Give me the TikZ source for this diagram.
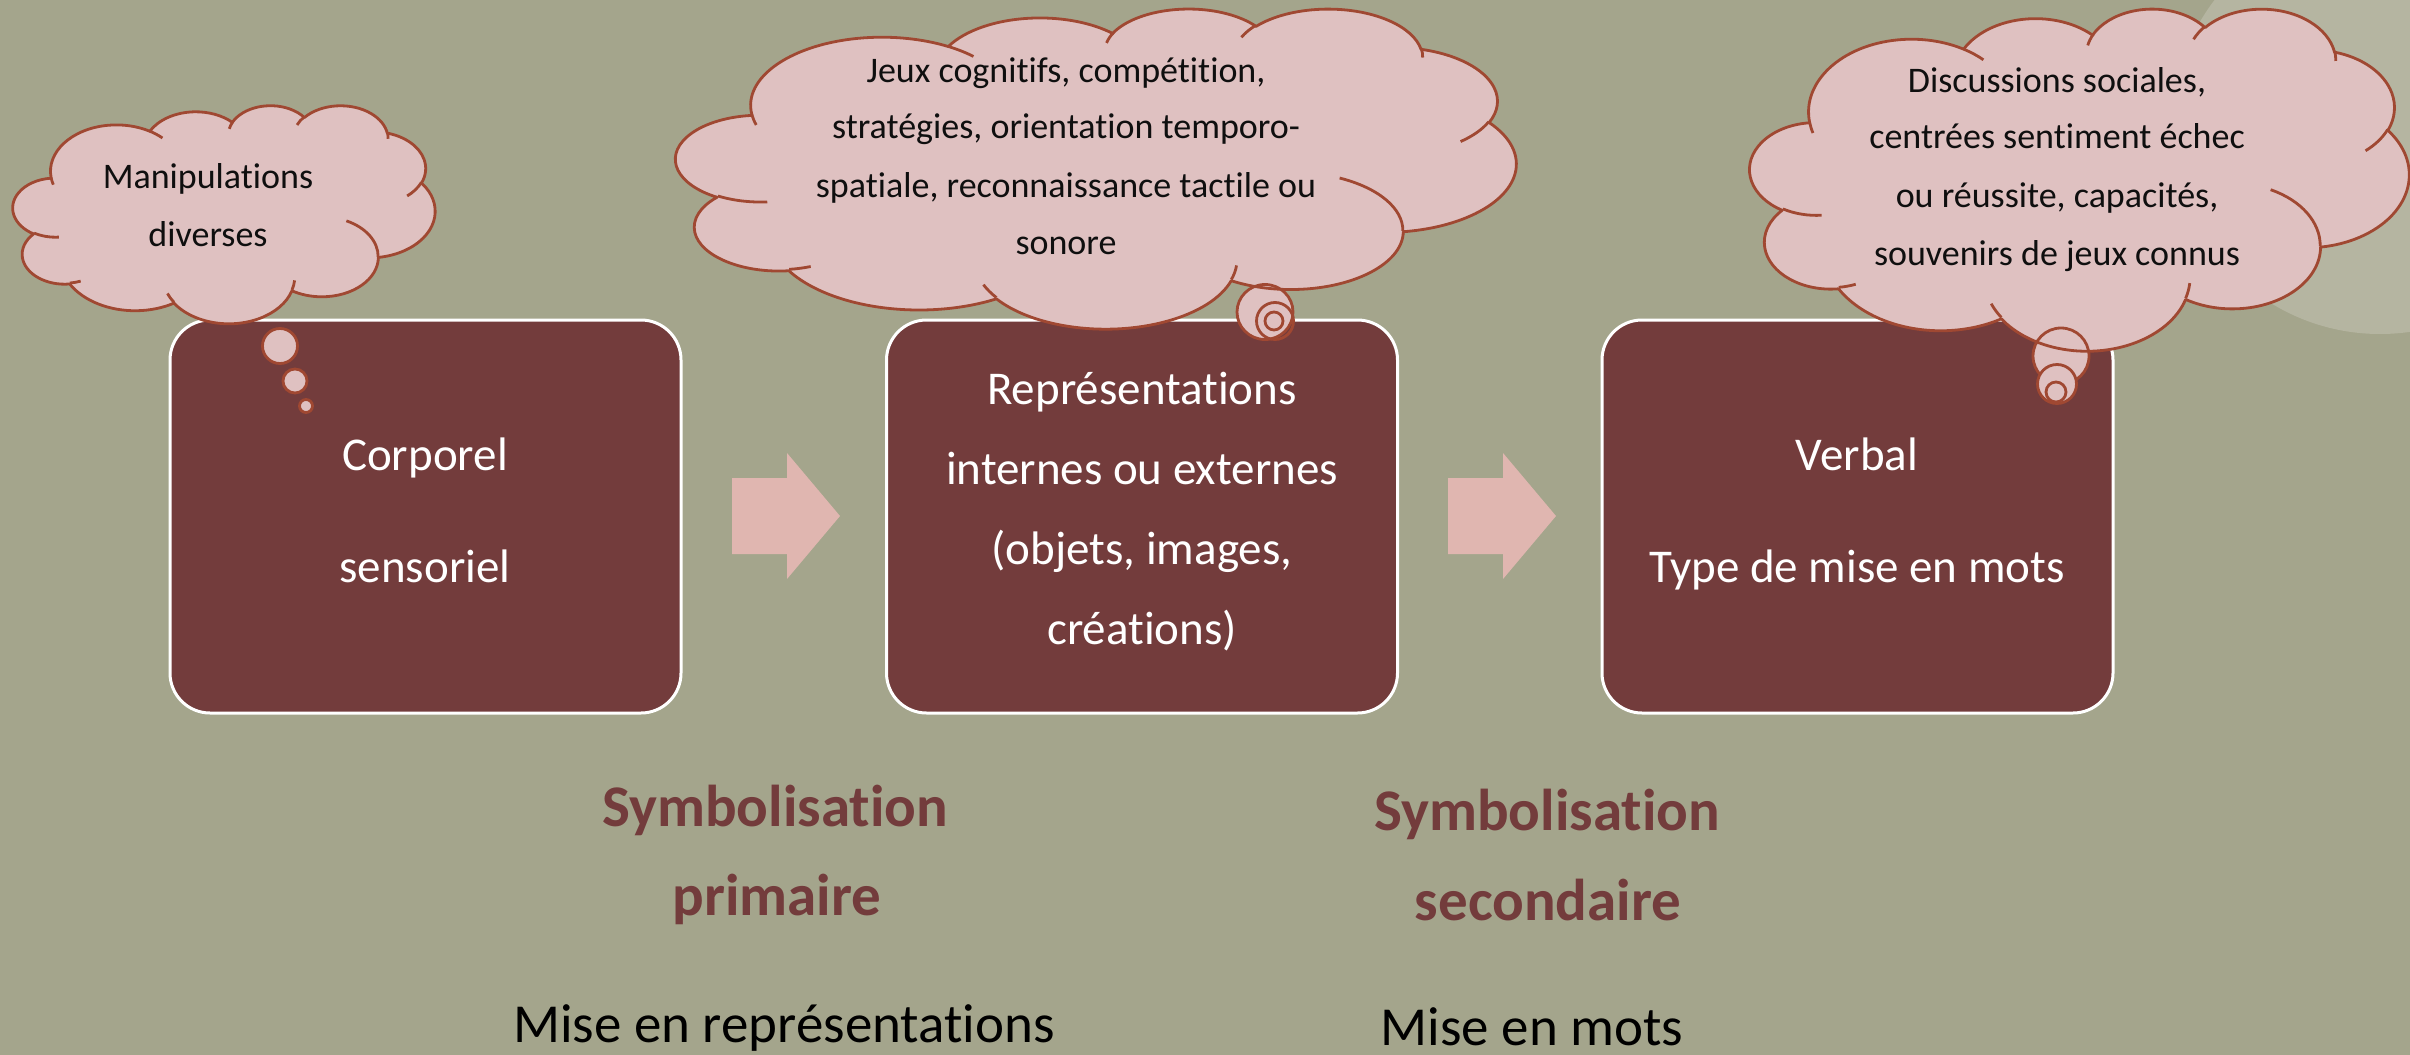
\documentclass[tikz,border=0pt]{standalone}
\usepackage{fontspec}
\setmainfont{Carlito}[Ligatures=NoCommon]

\definecolor{bg}{RGB}{164,165,140}
\definecolor{bgglow}{RGB}{181,181,161}
\definecolor{boxred}{RGB}{115,60,60}
\definecolor{cloudfill}{RGB}{223,193,193}
\definecolor{cloudedge}{RGB}{160,72,50}
\definecolor{arrowpink}{RGB}{224,182,176}
\definecolor{ink}{RGB}{15,15,15}

% Elliptic arc given by its visual start angle and sweep (degrees),
% converted to the parametric angles TikZ expects.
\newcommand\cldcalc[4]{%
  \pgfmathparse{atan2((#1)*sin(#3),(#2)*cos(#3))}\xdef\cldts{\pgfmathresult}%
  \pgfmathparse{atan2((#1)*sin(#3+#4),(#2)*cos(#3+#4))}\xdef\cldte{\pgfmathresult}%
  \pgfmathparse{mod(\cldte-\cldts+720,360)}\xdef\clddt{\pgfmathresult}%
}
\newcommand\cldarc[4]{\pgfextra{\cldcalc{#1}{#2}{#3}{#4}}
  arc[x radius=#1, y radius=#2, start angle=\cldts, delta angle=\clddt]}

% Cloud outline in a 43.2 x 43.2 box (y pointing down)
\newcommand\cloudbody{%
 (3.900,14.370)
 \cldarc{6.753}{9.190}{-190.4875}{123.7805}
 \cldarc{5.333}{7.267}{-144.1024}{89.9452}
 \cldarc{4.365}{5.945}{-145.8079}{99.7230}
 \cldarc{4.857}{6.595}{-130.9861}{117.2417}
 \cldarc{5.333}{7.273}{-78.7089}{109.0269}
 \cldarc{6.775}{9.220}{-46.2673}{130.2690}
 \cldarc{5.785}{7.867}{0.6250}{114.0333}
 \cldarc{6.752}{9.215}{22.4516}{115.1726}
 \cldarc{7.720}{10.543}{66.2426}{75.7110}
 \cldarc{4.360}{5.918}{-274.9421}{146.7356}
 \cldarc{4.345}{5.945}{-246.8285}{152.5189}
 -- cycle}
% Inner creases between the puffs
\newcommand\cloudcreases{%
 (4.693,26.177) \cldarc{4.345}{5.945}{86.7420}{26.4295}
 (6.928,34.899) \cldarc{4.360}{5.918}{73.6105}{11.4475}
 (16.478,39.090) \cldarc{6.752}{9.215}{137.6242}{14.0811}
 (28.827,34.751) \cldarc{6.752}{9.215}{6.4533}{15.9984}
 (34.129,22.954) \cldarc{5.785}{7.867}{-70.2924}{70.9174}
 (41.798,15.354) \cldarc{5.333}{7.273}{30.3180}{27.7515}
 (38.324,5.426) \cldarc{4.857}{6.595}{-13.7443}{14.8589}
 (29.078,3.952) \cldarc{4.857}{6.595}{-149.1815}{18.1954}
 (22.141,4.720) \cldarc{4.365}{5.945}{-163.4943}{17.6864}
 (14.000,5.192) \cldarc{6.753}{9.190}{-66.7070}{12.3194}
 (4.127,15.789) \cldarc{6.753}{9.190}{157.6544}{11.8582}}

% #1 left, #2 top, #3 width, #4 height, #5 fill or draw
\newcommand\cloudlayer[5]{%
  \pgfmathsetmacro\cldsx{#3/43.2}\pgfmathsetmacro\cldsy{#4/43.2}%
  \begin{scope}[shift={(#1,#2)}, x=\cldsx pt, y=-\cldsy pt]
    \ifx#5f\fill[cloudfill] \cloudbody;
    \else
      \draw[cloudline] \cloudbody;
      \draw[cloudline] \cloudcreases;
    \fi
  \end{scope}}

\begin{document}
\begin{tikzpicture}[x=1pt, y=-1pt,
  cloudline/.style={draw=cloudedge, line width=2.8pt, line join=round},
  bubble/.style={cloudline, fill=cloudfill},
  box/.style={draw=white, line width=3pt, fill=boxred, rounded corners=40pt,
    minimum width=511pt, minimum height=393pt, inner sep=0pt},
  boxtext/.style={text=white, font=\fontsize{47}{56}\selectfont, anchor=base, inner sep=0pt},
  cloudtext/.style={text=ink, font=\fontsize{36}{43}\selectfont, anchor=base, inner sep=0pt},
  titletext/.style={text=boxred, font=\bfseries\fontsize{59}{70}\selectfont, anchor=base, inner sep=0pt},
  modetext/.style={text=black, font=\fontsize{55}{66}\selectfont, anchor=base, inner sep=0pt},
  blockarrow/.style={fill=arrowpink},
]
\useasboundingbox (0,0) rectangle (2410,1055);
\fill[bg] (0,0) rectangle (2410,1055);
\fill[bgglow] (2380,126) circle[radius=208pt];

% three stages
\node[box] (b1) at (425.5,516.5) {};
\node[box] (b2) at (1142,516.5) {};
\node[box] (b3) at (1857.5,516.5) {};

\node[boxtext] (b1l1) at (425,470) {Corporel};
\node[boxtext] (b1l2) at (425,582) {sensoriel};
\node[boxtext] (b2l1) at (1142,404) {Représentations};
\node[boxtext] (b2l2) at (1142,484) {internes ou externes};
\node[boxtext] (b2l3) at (1142,564) {(objets, images,};
\node[boxtext] (b2l4) at (1142,644) {créations)};
\node[boxtext] (b3l1) at (1857,470) {Verbal};
\node[boxtext] (b3l2) at (1857,582) {Type de mise en mots};

% block arrows between the stages
\fill[blockarrow] (732,478) -- (787,478) -- (787,453) -- (840,516) -- (787,579) -- (787,554) -- (732,554) -- cycle;
\fill[blockarrow] (1448,478) -- (1503,478) -- (1503,453) -- (1556,516) -- (1503,579) -- (1503,554) -- (1448,554) -- cycle;

% thought clouds: fills first, then outlines
\cloudlayer{13}{105}{422}{218}{f}
\cloudlayer{676}{8}{840}{320}{f}
\cloudlayer{1750}{8}{659}{342}{f}
\fill[cloudfill] (1265,312) ellipse[x radius=28pt, y radius=27.5pt];
\fill[cloudfill] (2061,356) circle[radius=28pt];
\cloudlayer{13}{105}{422}{218}{d}
\cloudlayer{676}{8}{840}{320}{d}
\cloudlayer{1750}{8}{659}{342}{d}

% bubbles
\draw[bubble] (280,346) circle[radius=17.5pt];
\draw[bubble] (295,381) circle[radius=12pt];
\draw[bubble] (306,406) circle[radius=6.5pt];
\draw[cloudline] (1265,312) ellipse[x radius=28pt, y radius=27.5pt];
\draw[cloudline] (1275,321) circle[radius=18.5pt];
\draw[cloudline] (1274,321) circle[radius=9pt];
\draw[cloudline] (2061,356) circle[radius=28pt];
\draw[bubble] (2057,384) circle[radius=19.5pt];
\draw[cloudline] (2056,392) circle[radius=10pt];

% cloud texts
\node[cloudtext] (c1l1) at (208,188) {Manipulations};
\node[cloudtext] (c1l2) at (208,246) {diverses};
\node[cloudtext] (c2l1) at (1066,82) {Jeux cognitifs, compétition,};
\node[cloudtext] (c2l2) at (1066,138) {stratégies, orientation temporo-};
\node[cloudtext] (c2l3) at (1066,197) {spatiale, reconnaissance tactile ou};
\node[cloudtext] (c2l4) at (1066,254) {sonore};
\node[cloudtext] (c3l1) at (2057,92) {Discussions sociales,};
\node[cloudtext] (c3l2) at (2057,148) {centrées sentiment échec};
\node[cloudtext] (c3l3) at (2057,207) {ou réussite, capacités,};
\node[cloudtext] (c3l4) at (2057,265) {souvenirs de jeux connus};

% captions
\node[titletext] (t1a) at (775,826) {Symbolisation};
\node[titletext] (t1b) at (777,915) {primaire};
\node[titletext] (t2a) at (1547,830) {Symbolisation};
\node[titletext] (t2b) at (1548,920) {secondaire};
\node[modetext] (m1) at (784,1042) {Mise en représentations};
\node[modetext] (m2) at (1532,1045) {Mise en mots};
\end{tikzpicture}
\end{document}
